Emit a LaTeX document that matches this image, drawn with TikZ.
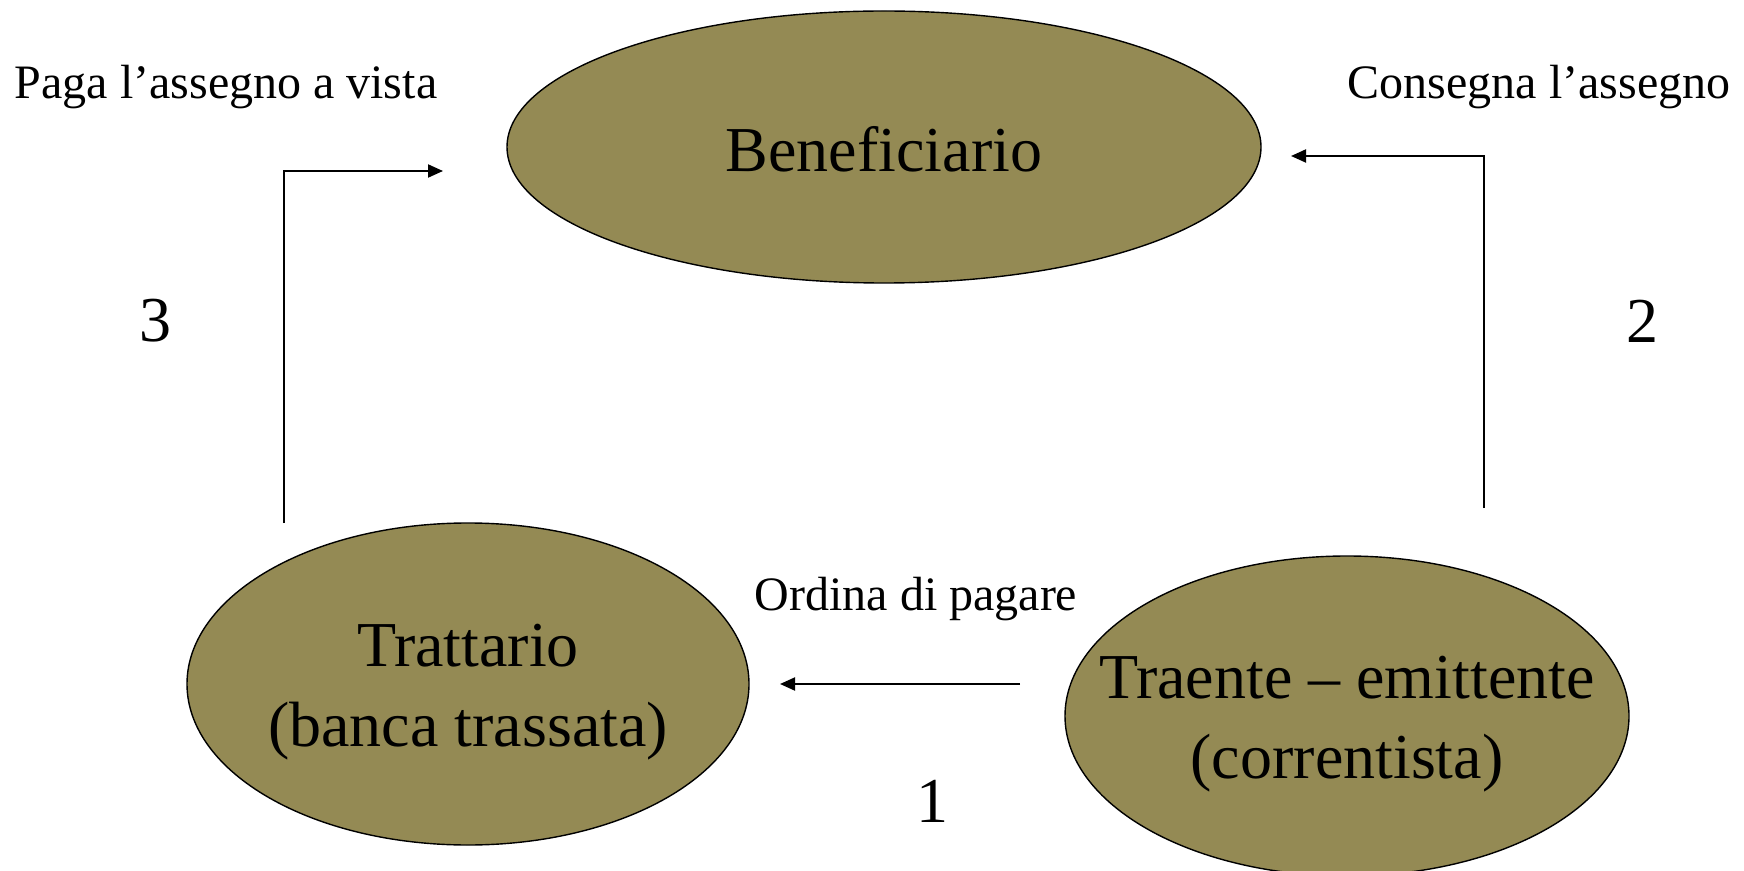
\documentclass[tikz,border=0pt]{standalone}
\usepackage{fontspec}
\setmainfont{Liberation Serif}
\usetikzlibrary{shapes.geometric,arrows.meta}
\definecolor{olive}{RGB}{148,138,84}
\begin{document}
\begin{tikzpicture}[x=0.5pt,y=-0.5pt,
  actor/.style={ellipse,draw=black,line width=0.7pt,fill=olive,inner sep=0pt},
  txt/.style={align=center,inner sep=0pt,font=\fontsize{32}{40}\selectfont},
  lbl/.style={font=\fontsize{24}{28}\selectfont,inner sep=0pt},
  num/.style={font=\fontsize{32}{38}\selectfont,inner sep=0pt},
  flow/.style={line width=1pt,-{Triangle[length=7.5pt,width=6.5pt]}}]
\useasboundingbox (0,0) rectangle (1744,871);
\node[actor,minimum width=377pt,minimum height=136pt] (ben) at (884,147) {};
\node[actor,minimum width=281pt,minimum height=161pt] (tra) at (468,684) {};
\node[actor,minimum width=282pt,minimum height=160pt] (tre) at (1347,716) {};
\node[txt] (bentxt) at (884,149) {Beneficiario};
\node[txt] (tratxt) at (468,692) {Trattario\\(banca trassata)};
\node[txt] (tretxt) at (1347,724) {Traente – emittente\\(correntista)};
\node[lbl] (l3) at (226,87) {Paga l’assegno a vista};
\node[lbl] (l2) at (1539,87) {Consegna l’assegno};
\node[lbl] (l1) at (916,599) {Ordina di pagare};
\node[num] (n3) at (155,321) {3};
\node[num] (n2) at (1642,321) {2};
\node[num] (n1) at (932,801) {1};
\coordinate (a3s) at (284,523);
\coordinate (a3e) at (443,171);
\coordinate (a2s) at (1484,508);
\coordinate (a2e) at (1291,156);
\coordinate (a1s) at (1020,684);
\coordinate (a1e) at (780,684);
\draw[flow] (a3s) |- (a3e);
\draw[flow] (a2s) |- (a2e);
\draw[flow] (a1s) -- (a1e);
\end{tikzpicture}
\end{document}
